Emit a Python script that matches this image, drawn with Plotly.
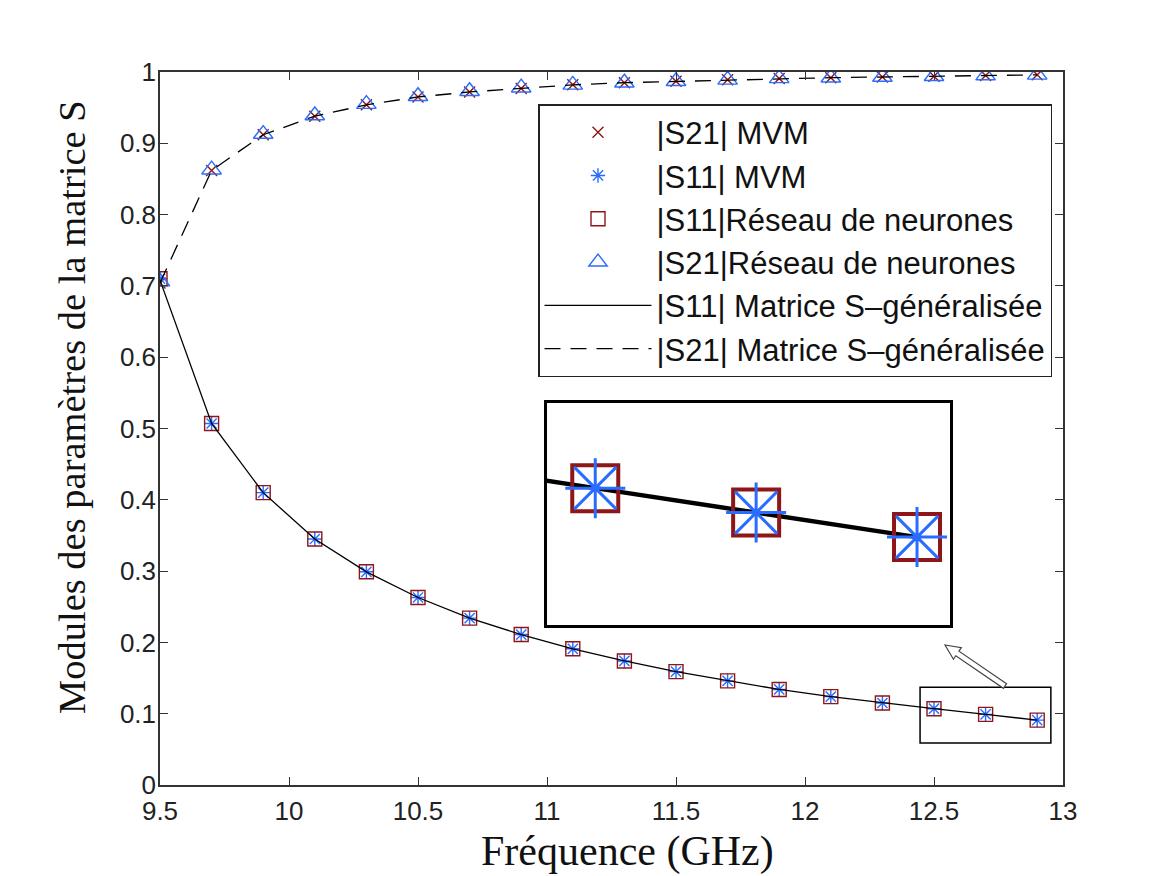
import plotly.graph_objects as go

# ---------------- data ----------------
freq = [9.5, 9.7, 9.9, 10.1, 10.3, 10.5, 10.7, 10.9, 11.1, 11.3,
        11.5, 11.7, 11.9, 12.1, 12.3, 12.5, 12.7, 12.9]

s21_mvm = [0.704, 0.862, 0.912, 0.938, 0.954, 0.965, 0.972, 0.977, 0.982, 0.985,
           0.987, 0.989, 0.991, 0.992, 0.993, 0.994, 0.995, 0.996]
s11_mvm = [0.710, 0.507, 0.410, 0.345, 0.299, 0.263, 0.234, 0.211, 0.191, 0.174,
           0.159, 0.146, 0.134, 0.124, 0.115, 0.107, 0.099, 0.091]
s11_nn = [0.710, 0.507, 0.410, 0.345, 0.299, 0.263, 0.234, 0.211, 0.191, 0.174,
          0.159, 0.146, 0.134, 0.124, 0.115, 0.107, 0.099, 0.091]
s21_nn = [0.706, 0.863, 0.913, 0.939, 0.955, 0.966, 0.973, 0.978, 0.982, 0.985,
          0.987, 0.989, 0.991, 0.992, 0.993, 0.994, 0.995, 0.996]
s11_gen = [0.708, 0.507, 0.410, 0.345, 0.299, 0.263, 0.234, 0.211, 0.191, 0.174,
           0.159, 0.146, 0.134, 0.124, 0.115, 0.107, 0.099, 0.091]
s21_gen = [0.704, 0.862, 0.912, 0.938, 0.954, 0.965, 0.972, 0.977, 0.982, 0.985,
           0.987, 0.989, 0.991, 0.992, 0.993, 0.994, 0.995, 0.996]

labels = ["|S21| MVM", "|S11| MVM", "|S11|Réseau de neurones",
          "|S21|Réseau de neurones", "|S11| Matrice S\u2013généralisée",
          "|S21| Matrice S\u2013généralisée"]

x_title = "Fréquence (GHz)"
y_title = "Modules des paramètres de la matrice S"

x_ticks = [9.5, 10, 10.5, 11, 11.5, 12, 12.5, 13]
y_ticks = [0, 0.1, 0.2, 0.3, 0.4, 0.5, 0.6, 0.7, 0.8, 0.9, 1]

# zoom window (data units)
zoom_x = [12.446, 12.953]
zoom_y = [0.059, 0.137]
inset_xrange = [12.44, 12.941]
inset_yrange = [0.0623, 0.1348]

# ---------------- styles ----------------
RED = "#8E1616"
BLUE = "#2A6CFF"
OFF = 8  # page body margin
W, H = 1157, 868
ML, MT = 160 - OFF, 72 - OFF
PW, PH = 903, 713
MR, MB = W - ML - PW, H - MT - PH

def px2paper(px, py):
    """screen pixel (reference picture) -> paper coords"""
    return (px - OFF - ML) / PW, (MT + PH - (py - OFF)) / PH

fig = go.Figure()

fig.add_trace(go.Scatter(x=freq, y=s21_mvm, mode="markers", name=labels[0],
                         legendgroup="a",
                         marker=dict(symbol="x-thin-open", size=11, color=RED,
                                     line=dict(color=RED, width=1.4))))
fig.add_trace(go.Scatter(x=freq, y=s11_mvm, mode="markers", name=labels[1],
                         legendgroup="b",
                         marker=dict(symbol="asterisk-open", size=12, color=BLUE,
                                     line=dict(color=BLUE, width=1.4))))
fig.add_trace(go.Scatter(x=freq, y=s11_nn, mode="markers", name=labels[2],
                         legendgroup="c",
                         marker=dict(symbol="square-open", size=14, color=RED,
                                     line=dict(color=RED, width=1.4))))
fig.add_trace(go.Scatter(x=freq, y=s21_nn, mode="markers", name=labels[3],
                         legendgroup="d",
                         marker=dict(symbol="triangle-up-open", size=17, color=BLUE,
                                     line=dict(color=BLUE, width=1.4))))
fig.add_trace(go.Scatter(x=freq, y=s11_gen, mode="lines", name=labels[4],
                         legendgroup="e",
                         line=dict(color="black", width=1.3)))
fig.add_trace(go.Scatter(x=freq, y=s21_gen, mode="lines", name=labels[5],
                         legendgroup="f",
                         line=dict(color="black", width=1.3, dash="16px,10px")))

# ---------------- inset (zoom) ----------------
fig.add_trace(go.Scatter(x=freq, y=s11_gen, mode="lines", showlegend=False,
                         xaxis="x2", yaxis="y2",
                         line=dict(color="black", width=4.5)))
fig.add_trace(go.Scatter(x=freq, y=s11_nn, mode="markers", showlegend=False,
                         xaxis="x2", yaxis="y2", cliponaxis=False,
                         marker=dict(symbol="square-open", size=46, color=RED,
                                     line=dict(color=RED, width=4))))
fig.add_trace(go.Scatter(x=freq, y=s11_mvm, mode="markers", showlegend=False,
                         xaxis="x2", yaxis="y2", cliponaxis=False,
                         marker=dict(symbol="asterisk-open", size=50, color=BLUE,
                                     line=dict(color=BLUE, width=3))))

ix0, iy0 = px2paper(547, 625)
ix1, iy1 = px2paper(950, 403)

axis_common = dict(showgrid=False, zeroline=False, ticks="inside", ticklen=8,
                   tickwidth=1.2, tickcolor="#333", showline=True, mirror="ticks",
                   linecolor="#333", linewidth=1.5, automargin=False,
                   tickfont=dict(family="Liberation Sans, Arial, sans-serif",
                                 size=26, color="#222"))

fig.update_layout(
    width=W, height=H,
    margin=dict(l=ML, r=MR, t=MT, b=MB, autoexpand=False),
    paper_bgcolor="white", plot_bgcolor="white",
    xaxis=dict(range=[9.5, 13], tickvals=x_ticks,
               ticktext=[f"{v:g}" for v in x_ticks],
               ticklabelstandoff=2, **axis_common),
    yaxis=dict(range=[0, 1], tickvals=y_ticks,
               ticktext=[f"{v:g}" for v in y_ticks],
               ticklabelstandoff=-3, **axis_common),
    xaxis2=dict(domain=[ix0, ix1], anchor="y2", range=inset_xrange,
                showticklabels=False, ticks="", showgrid=False, zeroline=False,
                showline=True, mirror=True, linecolor="black", linewidth=3),
    yaxis2=dict(domain=[iy0, iy1], anchor="x2", range=inset_yrange,
                showticklabels=False, ticks="", showgrid=False, zeroline=False,
                showline=True, mirror=True, linecolor="black", linewidth=3),
    legend=dict(x=px2paper(538, 0)[0], y=px2paper(0, 104)[1],
                xanchor="left", yanchor="top",
                bgcolor="white", bordercolor="#222", borderwidth=1.5,
                font=dict(family="Liberation Sans, Arial, sans-serif", size=31,
                          color="#111"),
                itemwidth=107, tracegroupgap=0, traceorder="grouped"),
    showlegend=True,
)

# axis titles
xt_x, xt_y = px2paper(627, 851)
fig.add_annotation(text=x_title, xref="paper", yref="paper", x=xt_x, y=xt_y,
                   xanchor="center", yanchor="middle", showarrow=False,
                   font=dict(family="Liberation Serif, Times New Roman, serif",
                             size=42, color="#111"))
yt_x, yt_y = px2paper(72, 407)
fig.add_annotation(text=y_title, xref="paper", yref="paper", x=yt_x, y=yt_y,
                   xanchor="center", yanchor="middle", showarrow=False,
                   textangle=-90,
                   font=dict(family="Liberation Serif, Times New Roman, serif",
                             size=38.5, color="#111"))

# rectangle around the zoomed points
fig.add_shape(type="rect", xref="x", yref="y", x0=zoom_x[0], x1=zoom_x[1],
              y0=zoom_y[0], y1=zoom_y[1], line=dict(color="black", width=1.5))

# hollow arrow pointing to the inset
tip = (945.0, 645.0)
tail = (1005.0, 686.0)
dx, dy = tip[0] - tail[0], tip[1] - tail[1]
L = (dx * dx + dy * dy) ** 0.5
ux, uy = dx / L, dy / L
nx, ny = -uy, ux
hw, HW, HL = 2.8, 7.0, 15.0
bx, by = tip[0] - HL * ux, tip[1] - HL * uy
pts = [
    (tail[0] + hw * nx, tail[1] + hw * ny),
    (bx + hw * nx, by + hw * ny),
    (bx + HW * nx, by + HW * ny),
    tip,
    (bx - HW * nx, by - HW * ny),
    (bx - hw * nx, by - hw * ny),
    (tail[0] - hw * nx, tail[1] - hw * ny),
]
path = ""
for i, (px, py) in enumerate(pts):
    qx, qy = px2paper(px, py)
    path += ("M" if i == 0 else "L") + f"{qx:.5f},{qy:.5f} "
path += "Z"
fig.add_shape(type="path", xref="paper", yref="paper", path=path,
              fillcolor="white", line=dict(color="#444", width=1.2))

fig.write_html("out.html")
